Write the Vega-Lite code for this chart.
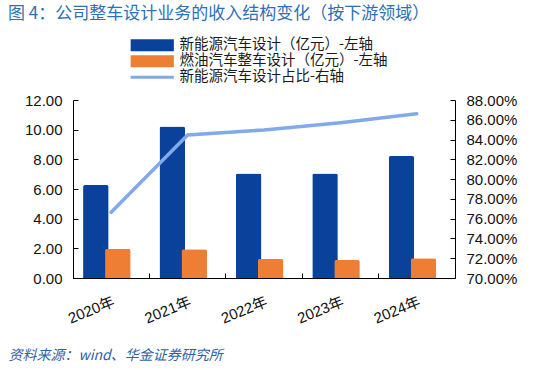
{
  "$schema": "https://vega.github.io/schema/vega-lite/v6.json",
  "width": 382,
  "height": 178,
  "autosize": "none",
  "padding": {"left": 73, "top": 100, "right": 88, "bottom": 92},
  "background": "white",
  "title": {
    "text": "图 4：公司整车设计业务的收入结构变化（按下游领域）",
    "anchor": "start",
    "frame": "group",
    "dx": -65,
    "offset": 15,
    "fontSize": 17,
    "font": "Noto Sans CJK SC",
    "fontWeight": "normal",
    "color": "#2E6FB5"
  },
  "datasets": {
    "bars": [
      {"year": "2020年", "type": "新能源汽车设计（亿元）-左轴", "v": 6.27},
      {"year": "2020年", "type": "燃油汽车整车设计（亿元）-左轴", "v": 1.96},
      {"year": "2021年", "type": "新能源汽车设计（亿元）-左轴", "v": 10.22},
      {"year": "2021年", "type": "燃油汽车整车设计（亿元）-左轴", "v": 1.94},
      {"year": "2022年", "type": "新能源汽车设计（亿元）-左轴", "v": 7.05},
      {"year": "2022年", "type": "燃油汽车整车设计（亿元）-左轴", "v": 1.28},
      {"year": "2023年", "type": "新能源汽车设计（亿元）-左轴", "v": 7.05},
      {"year": "2023年", "type": "燃油汽车整车设计（亿元）-左轴", "v": 1.21},
      {"year": "2024年", "type": "新能源汽车设计（亿元）-左轴", "v": 8.22},
      {"year": "2024年", "type": "燃油汽车整车设计（亿元）-左轴", "v": 1.33}
    ],
    "share": [
      {"year": "2020年", "pct": 76.64},
      {"year": "2021年", "pct": 84.46},
      {"year": "2022年", "pct": 84.97},
      {"year": "2023年", "pct": 85.7},
      {"year": "2024年", "pct": 86.6}
    ]
  },
  "encoding": {
    "x": {
      "field": "year",
      "type": "nominal",
      "sort": null,
      "scale": {"paddingInner": 0, "paddingOuter": 0},
      "axis": {
        "title": "资料来源：wind、华金证券研究所",
        "titleFont": "Noto Sans CJK SC",
        "titleFontStyle": "italic",
        "titleFontWeight": "normal",
        "titleFontSize": 14,
        "titleColor": "#2E62A8",
        "titleAnchor": "start",
        "titleAlign": "left",
        "titleBaseline": "middle",
        "titleX": -65,
        "titleY": 77,
        "labelAngle": -22,
        "labelFont": "Liberation Sans, Noto Sans CJK SC",
        "labelFontSize": 15,
        "labelColor": "#111111",
        "labelPadding": 21,
        "domainColor": "#000000",
        "tickColor": "#000000",
        "tickSize": -5,
        "bandPosition": 0
      }
    }
  },
  "layer": [
    {
      "data": {"name": "bars"},
      "mark": {"type": "bar", "width": {"band": 1.16}, "cornerRadiusTopLeft": 2, "cornerRadiusTopRight": 2},
      "encoding": {
        "xOffset": {
          "field": "type",
          "type": "nominal",
          "sort": null,
          "scale": {"paddingInner": 0, "paddingOuter": 0.736}
        },
        "y": {
          "field": "v",
          "type": "quantitative",
          "scale": {"domain": [0, 12], "nice": false},
          "axis": {
            "title": null,
            "values": [0, 2, 4, 6, 8, 10, 12],
            "format": ".2f",
            "grid": false,
            "labelFont": "Liberation Sans",
            "labelFontSize": 15,
            "labelColor": "#111111",
            "labelPadding": 16,
            "domainColor": "#000000",
            "tickColor": "#000000",
            "tickSize": -5
          }
        },
        "color": {
          "field": "type",
          "type": "nominal",
          "scale": {
            "domain": ["新能源汽车设计（亿元）-左轴", "燃油汽车整车设计（亿元）-左轴", "新能源汽车设计占比-右轴"],
            "range": ["#0A429B", "#EE7E33", "#82A9E8"]
          },
          "legend": {
            "orient": "none",
            "legendX": 72,
            "legendY": -62,
            "title": null,
            "labelFont": "Noto Sans CJK SC",
            "labelFontSize": 14.5,
            "labelColor": "#1A1A1A",
            "labelOffset": 20,
            "labelLimit": 0,
            "rowPadding": 1,
            "symbolSize": 144,
            "symbolType": "M-3.6,-1H3.6V1H-3.6Z",
            "encode": {
              "symbols": {
                "update": {
                  "shape": {"signal": "datum.value === '新能源汽车设计占比-右轴' ? 'M-3.6,-0.27H3.6V0.27H-3.6Z' : 'M-3.6,-1H3.6V1H-3.6Z'"},
                  "fill": {"scale": "color", "field": "value"},
                  "strokeWidth": {"value": 0},
                  "opacity": {"value": 1}
                }
              }
            }
          }
        }
      }
    },
    {
      "data": {"name": "share"},
      "mark": {"type": "line", "strokeWidth": 3.5, "strokeCap": "round", "color": "#82A9E8"},
      "encoding": {
        "y": {
          "field": "pct",
          "type": "quantitative",
          "scale": {"domain": [70, 88], "nice": false, "zero": false},
          "axis": {
            "orient": "right",
            "title": null,
            "values": [70, 72, 74, 76, 78, 80, 82, 84, 86, 88],
            "labelExpr": "format(datum.value, '.2f') + '%'",
            "grid": false,
            "labelFont": "Liberation Sans",
            "labelFontSize": 15,
            "labelColor": "#111111",
            "labelPadding": 16,
            "domainColor": "#000000",
            "tickColor": "#000000",
            "tickSize": -5
          }
        },
        "color": {"datum": "新能源汽车设计占比-右轴"}
      }
    }
  ],
  "resolve": {"scale": {"y": "independent"}},
  "config": {"view": {"stroke": null}}
}
